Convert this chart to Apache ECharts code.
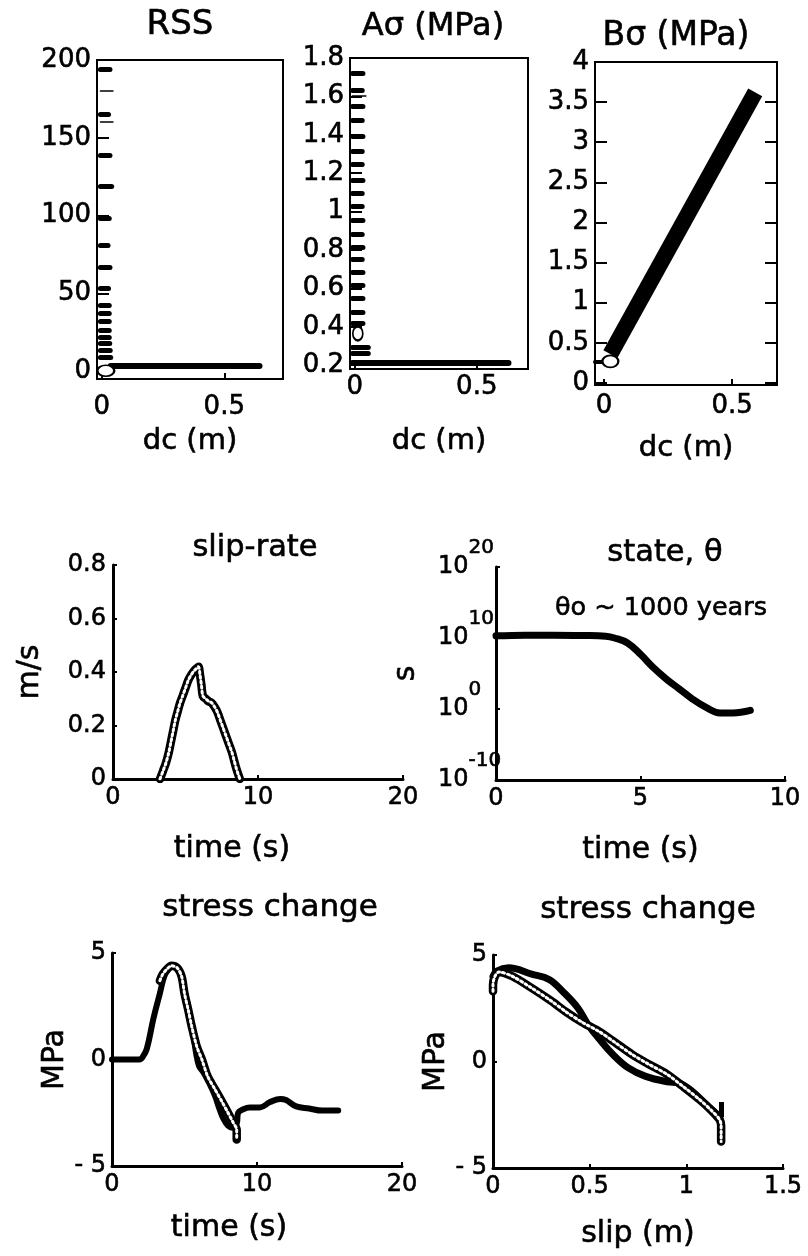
<!DOCTYPE html>
<html><head><meta charset="utf-8">
<script src="https://cdn.jsdelivr.net/npm/echarts@6/dist/echarts.min.js"></script>
<style>html,body{margin:0;padding:0;background:#fff}#c{width:808px;height:1256px}</style>
</head><body><div id="c"></div>
<script>
// ---------- data ----------
// RSS vs dc
const rssDashY   = [194, 165, 139, 119, 98.5, 81, 67, 53, 42.6, 37, 32, 26.5, 22, 18, 13.5, 9];
const rssDashEnd = [0.033, 0.027, 0.033, 0.04, 0.03, 0.025, 0.033, 0.027, 0.03, 0.03, 0.03, 0.03, 0.03, 0.032, 0.034, 0.036];
const rssDashStart = -0.006;
const rssThinY   = [180, 160];
const rssFloorX  = [0.036, 0.644];
const rssFloorY  = 3.2;
const rssBlob    = [0.016, 0.3];
const rssYTicks  = [0, 50, 100, 150, 200];
// A sigma vs dc
const aDashY   = [1.718, 1.632, 1.551, 1.476, 1.395, 1.313, 1.248, 1.165, 1.095, 1.026, 0.953, 0.884, 0.815, 0.754, 0.685, 0.616, 0.546, 0.477, 0.42, 0.295, 0.26];
const aDashEnd = [0.033, 0.03, 0.033, 0.03, 0.033, 0.03, 0.03, 0.033, 0.03, 0.03, 0.033, 0.03, 0.033, 0.03, 0.033, 0.033, 0.033, 0.033, 0.033, 0.055, 0.055];
const aDashStart = -0.01;
const aThinY   = [1.603];
const aFloorX  = [-0.01, 0.63];
const aFloorY  = 0.215;
const aBlob    = [0.012, 0.365];
const aYTicks  = [0.2, 0.4, 0.6, 0.8, 1, 1.2, 1.4, 1.6, 1.8];
// B sigma vs dc
const bBandX = [0.025, 0.59];
const bBandY = [0.36, 3.62];
const bBlob  = [0.025, 0.27];
const bTailX = [-0.035, 0.0];
const bTailY = 0.265;
const bYTicks = [0, 0.5, 1, 1.5, 2, 2.5, 3, 3.5, 4];
const dcTicks = [0, 0.5];
// slip-rate vs time
const slipT = [3.24, 3.45, 3.65, 3.85, 4.0, 4.15, 4.3, 4.45, 4.6, 4.8, 5.0, 5.2, 5.4, 5.6, 5.8, 5.9, 6.0, 6.1, 6.2, 6.4, 6.6, 6.8, 7.0, 7.2, 7.4, 7.6, 7.8, 8.0, 8.2, 8.35, 8.5, 8.65, 8.75];
const slipV = [0, 0.03, 0.06, 0.10, 0.14, 0.18, 0.22, 0.25, 0.28, 0.31, 0.34, 0.37, 0.39, 0.405, 0.415, 0.42, 0.39, 0.35, 0.31, 0.30, 0.29, 0.285, 0.27, 0.25, 0.22, 0.19, 0.16, 0.13, 0.10, 0.07, 0.04, 0.015, 0];
// state (log10 seconds) vs time
const stateT = [0, 1, 2, 3, 3.8, 4.1, 4.55, 5.0, 5.45, 5.9, 6.35, 6.8, 7.3, 7.75, 8.2, 8.8];
const stateLog = [10.3, 10.4, 10.4, 10.35, 10.25, 10.0, 9.3, 7.7, 5.8, 4.2, 2.8, 1.4, 0.15, -0.55, -0.55, -0.2];
// stress change vs time (solid trace and marker trace)
const stressT = [0, 1, 1.9, 2.1, 2.4, 2.85, 3.3, 3.6, 3.9, 4.1, 4.4, 4.7, 5.0, 5.3, 5.6, 5.8, 6.0, 6.3, 6.7, 7.1, 7.4, 7.7, 8.0, 8.3, 8.6, 8.7, 9.0, 9.5, 10.2, 10.9, 11.6, 12.0, 12.7, 13.6, 14.5, 15.6];
const stressS = [0, 0, 0, 0.1, 0.5, 1.9, 3.1, 3.9, 4.25, 4.4, 4.35, 4.0, 3.2, 2.3, 1.2, 0.3, -0.3, -0.6, -1.1, -1.7, -2.3, -2.8, -3.1, -3.2, -3.0, -2.5, -2.35, -2.25, -2.25, -2.0, -1.85, -1.9, -2.2, -2.3, -2.4, -2.4];
const stressMkT = [3.3, 3.5, 3.8, 4.1, 4.5, 4.8, 5.0, 5.25, 5.5, 5.85, 6.2, 6.6, 7.1, 7.6, 8.0, 8.35, 8.6, 8.6];
const stressMkS = [3.7, 4.0, 4.25, 4.4, 4.3, 3.9, 3.1, 2.35, 1.55, 0.6, 0, -0.8, -1.4, -2.0, -2.5, -2.95, -3.3, -3.75];
// stress change vs slip
const slipD  = [0.0, 0.02, 0.08, 0.2, 0.29, 0.37, 0.44, 0.49, 0.55, 0.62, 0.70, 0.79, 0.9, 0.96, 1.03, 1.1, 1.17, 1.18];
const slipS  = [4.0, 4.25, 4.4, 4.1, 3.85, 3.2, 2.5, 1.75, 1.05, 0.33, -0.3, -0.7, -0.95, -1.0, -1.4, -2.0, -2.6, -2.9];
const slipBarY = [-1.9, -2.6];
const slipBarX = 1.18;
const slipMkD = [0, 0, 0.01, 0.03, 0.1, 0.2, 0.3, 0.375, 0.46, 0.55, 0.63, 0.72, 0.8, 0.9, 0.98, 1.07, 1.13, 1.17, 1.18, 1.18, 1.18];
const slipMkS = [3.3, 3.6, 4.0, 4.2, 4.0, 3.45, 2.85, 2.35, 1.85, 1.4, 0.9, 0.33, -0.1, -0.6, -1.15, -1.8, -2.3, -2.7, -3.0, -3.4, -3.75];

// ---------- styling / layout ----------
const FONT = 'DejaVu Sans';
const K = '#000';
const BW = 0.6; // slight stroke to mimic the heavy scanned lettering
const txt = (size, extra) => Object.assign({color: K, fontFamily: FONT, fontSize: size, textBorderColor: K, textBorderWidth: BW}, extra);
const zip = (a, b) => a.map((v, i) => [v, b[i]]);

const grids = [
  {left: 97,  top: 60,  width: 186, height: 319, show: true, borderColor: K, borderWidth: 2},
  {left: 350, top: 58,  width: 178, height: 311, show: true, borderColor: K, borderWidth: 2},
  {left: 595, top: 62,  width: 182, height: 323, show: true, borderColor: K, borderWidth: 2},
  {left: 113, top: 565, width: 290, height: 214},
  {left: 496, top: 567, width: 289, height: 213},
  {left: 112, top: 953, width: 290, height: 213},
  {left: 493, top: 955, width: 290, height: 213}
].map(g => Object.assign({containLabel: false, outerBoundsMode: 'none'}, g));

function topX(gi, min, max, margin, nameGap) {
  return {type: 'value', gridIndex: gi, min, max,
    axisLine: {show: true, onZero: false, lineStyle: {color: K, width: 2}},
    axisTick: {show: true, inside: true, length: 6, customValues: dcTicks, lineStyle: {color: K, width: 2}},
    axisLabel: txt(26, {customValues: dcTicks, margin}),
    splitLine: {show: false},
    name: 'dc (m)', nameLocation: 'middle', nameGap,
    nameTextStyle: txt(29)};
}
function topY(gi, min, max, ticks, right) {
  return {type: 'value', gridIndex: gi, min, max, position: right ? 'right' : 'left',
    axisLine: {show: true, onZero: false, lineStyle: {color: K, width: 2}},
    axisTick: {show: true, inside: true, length: 12, customValues: ticks, lineStyle: {color: K, width: 2}},
    axisLabel: txt(26, {show: !right, customValues: ticks, margin: 6}),
    splitLine: {show: false}};
}
function plainAxis(gi, min, max, interval, extra) {
  return Object.assign({type: 'value', gridIndex: gi, min, max, interval,
    axisLine: {show: true, onZero: false, lineStyle: {color: K, width: 3}},
    axisTick: {show: true, inside: true, length: 4, lineStyle: {color: K, width: 2}},
    axisLabel: txt(24, {margin: 7}),
    splitLine: {show: false},
    nameLocation: 'middle',
    nameTextStyle: txt(30)}, extra);
}

const xAxes = [
  topX(0, -0.02, 0.74, 15, 48),
  topX(1, -0.02, 0.71, 5, 58),
  topX(2, -0.035, 0.675, 8, 49),
  plainAxis(3, 0, 20, 10, {name: 'time (s)', nameGap: 55, nameTextStyle: txt(30, {padding: [0, 52, 0, 0]})}),
  plainAxis(4, 0, 10, 5, {name: 'time (s)', nameGap: 55}),
  plainAxis(5, 0, 20, 10, {name: 'time (s)', nameGap: 47, nameTextStyle: txt(30, {padding: [0, 56, 0, 0]})}),
  plainAxis(6, 0, 1.5, 0.5, {name: 'slip (m)', nameGap: 51})
];
const stressFmt = v => (v < 0 ? '- ' + Math.abs(v) : String(v));
const yAxes = [
  topY(0, -5, 200, rssYTicks, false),
  topY(1, 0.18, 1.8, aYTicks, false),
  topY(2, -0.025, 4.0, bYTicks, false),
  plainAxis(3, 0, 0.8, 0.2, {name: 'm/s', nameGap: 68, nameRotate: 90}),
  plainAxis(4, -10, 20, 10, {name: 's', nameGap: 75, nameRotate: 90,
    axisLabel: {color: K, fontFamily: FONT, margin: 58, align: 'left',
      formatter: v => '{b|10}{s|' + v + '}',
      rich: {b: txt(24),
             s: txt(20, {padding: [0, 0, 38, 0]})}}}),
  plainAxis(5, -5, 5, 5, {name: 'MPa', nameGap: 25, nameRotate: 90,
    axisLabel: txt(24, {margin: 6, formatter: stressFmt})}),
  plainAxis(6, -5, 5, 5, {name: 'MPa', nameGap: 36, nameRotate: 90,
    axisLabel: txt(24, {margin: 6, formatter: stressFmt})}),
  // mirrored right-side ticks for the B sigma box (index 7)
  topY(2, -0.025, 4.0, bYTicks, true)
];

function dashes(ax, ys, x0, x1s, width, cap) {
  return {type: 'lines', coordinateSystem: 'cartesian2d', xAxisIndex: ax, yAxisIndex: ax,
    polyline: false, silent: true, animation: false,
    lineStyle: {color: K, width, opacity: 1, cap: cap || 'round'},
    data: ys.map((y, i) => ({coords: [[x0, y], [Array.isArray(x1s) ? x1s[i] : x1s, y]]}))};
}
function solid(ax, data, width, smooth) {
  return {type: 'line', xAxisIndex: ax, yAxisIndex: ax, data, showSymbol: false, symbol: 'none',
    smooth: smooth ? 0.4 : false, animation: false, silent: true, clip: false,
    lineStyle: {color: K, width, cap: 'round', join: 'round'}, z: 3};
}
function hatched(ax, data) {
  return [
    {type: 'line', xAxisIndex: ax, yAxisIndex: ax, data, symbol: 'none', smooth: 0.3, animation: false, silent: true,
      lineStyle: {color: K, width: 8.5, cap: 'round', join: 'round'}, z: 4},
    {type: 'line', xAxisIndex: ax, yAxisIndex: ax, data, symbol: 'none', smooth: 0.3, animation: false, silent: true,
      lineStyle: {color: '#fff', width: 3, type: [2, 3], cap: 'round'}, z: 5}
  ];
}
function blob(ax, pt, size) {
  return {type: 'scatter', xAxisIndex: ax, yAxisIndex: ax, data: [pt], symbol: 'circle', symbolSize: size,
    animation: false, silent: true, itemStyle: {color: '#fff', borderColor: K, borderWidth: 2, opacity: 1}, z: 6};
}

const series = [
  // RSS
  dashes(0, rssDashY, rssDashStart, rssDashEnd, 5),
  dashes(0, rssThinY, rssDashStart, 0.045, 1.5),
  dashes(0, [rssFloorY], rssFloorX[0], rssFloorX[1], 6),
  blob(0, rssBlob, [17, 11]),
  // A sigma
  dashes(1, aDashY, aDashStart, aDashEnd, 5),
  dashes(1, aThinY, aDashStart, 0.045, 1.5),
  dashes(1, [aFloorY], aFloorX[0], aFloorX[1], 6),
  blob(1, aBlob, [10, 14]),
  // B sigma
  {type: 'line', xAxisIndex: 2, yAxisIndex: 2, data: zip(bBandX, bBandY), symbol: 'none', animation: false, silent: true,
    lineStyle: {color: K, width: 16, cap: 'butt'}},
  dashes(2, [bTailY], bTailX[0], bTailX[1], 4),
  blob(2, bBlob, [16, 12]),
  // slip-rate
  ...hatched(3, zip(slipT, slipV)),
  // state
  solid(4, zip(stateT, stateLog), 7, true),
  // stress change vs time
  solid(5, zip(stressT, stressS), 6, true),
  ...hatched(5, zip(stressMkT, stressMkS)),
  // stress change vs slip
  solid(6, zip(slipD, slipS), 7, true),
  {type: 'lines', coordinateSystem: 'cartesian2d', xAxisIndex: 6, yAxisIndex: 6, polyline: false, silent: true, animation: false,
    lineStyle: {color: K, width: 5, opacity: 1, cap: 'butt'},
    data: [{coords: [[slipBarX, slipBarY[0]], [slipBarX, slipBarY[1]]]}]},
  ...hatched(6, zip(slipMkD, slipMkS))
];

function ttl(text, x, y, size) {
  return {text, left: x, top: y, textAlign: 'center', textVerticalAlign: 'middle', padding: 0,
    textStyle: txt(size, {fontWeight: 'normal'})};
}
const titles = [
  ttl('RSS', 180, 25, 34),
  ttl('Aσ (MPa)', 433, 27, 32),
  ttl('Bσ (MPa)', 676, 36, 33),
  ttl('slip-rate', 255, 548, 30.5),
  ttl('state, θ', 665, 553, 30.5),
  ttl('θo ~ 1000 years', 661, 608, 25.5),
  ttl('stress change', 270, 908, 31),
  ttl('stress change', 648, 910, 31)
];

const chart = echarts.init(document.getElementById('c'), null, {renderer: 'canvas'});
chart.setOption({
  animation: false,
  backgroundColor: '#fff',
  title: titles,
  grid: grids,
  xAxis: xAxes,
  yAxis: yAxes,
  series
});
</script>
</body></html>
